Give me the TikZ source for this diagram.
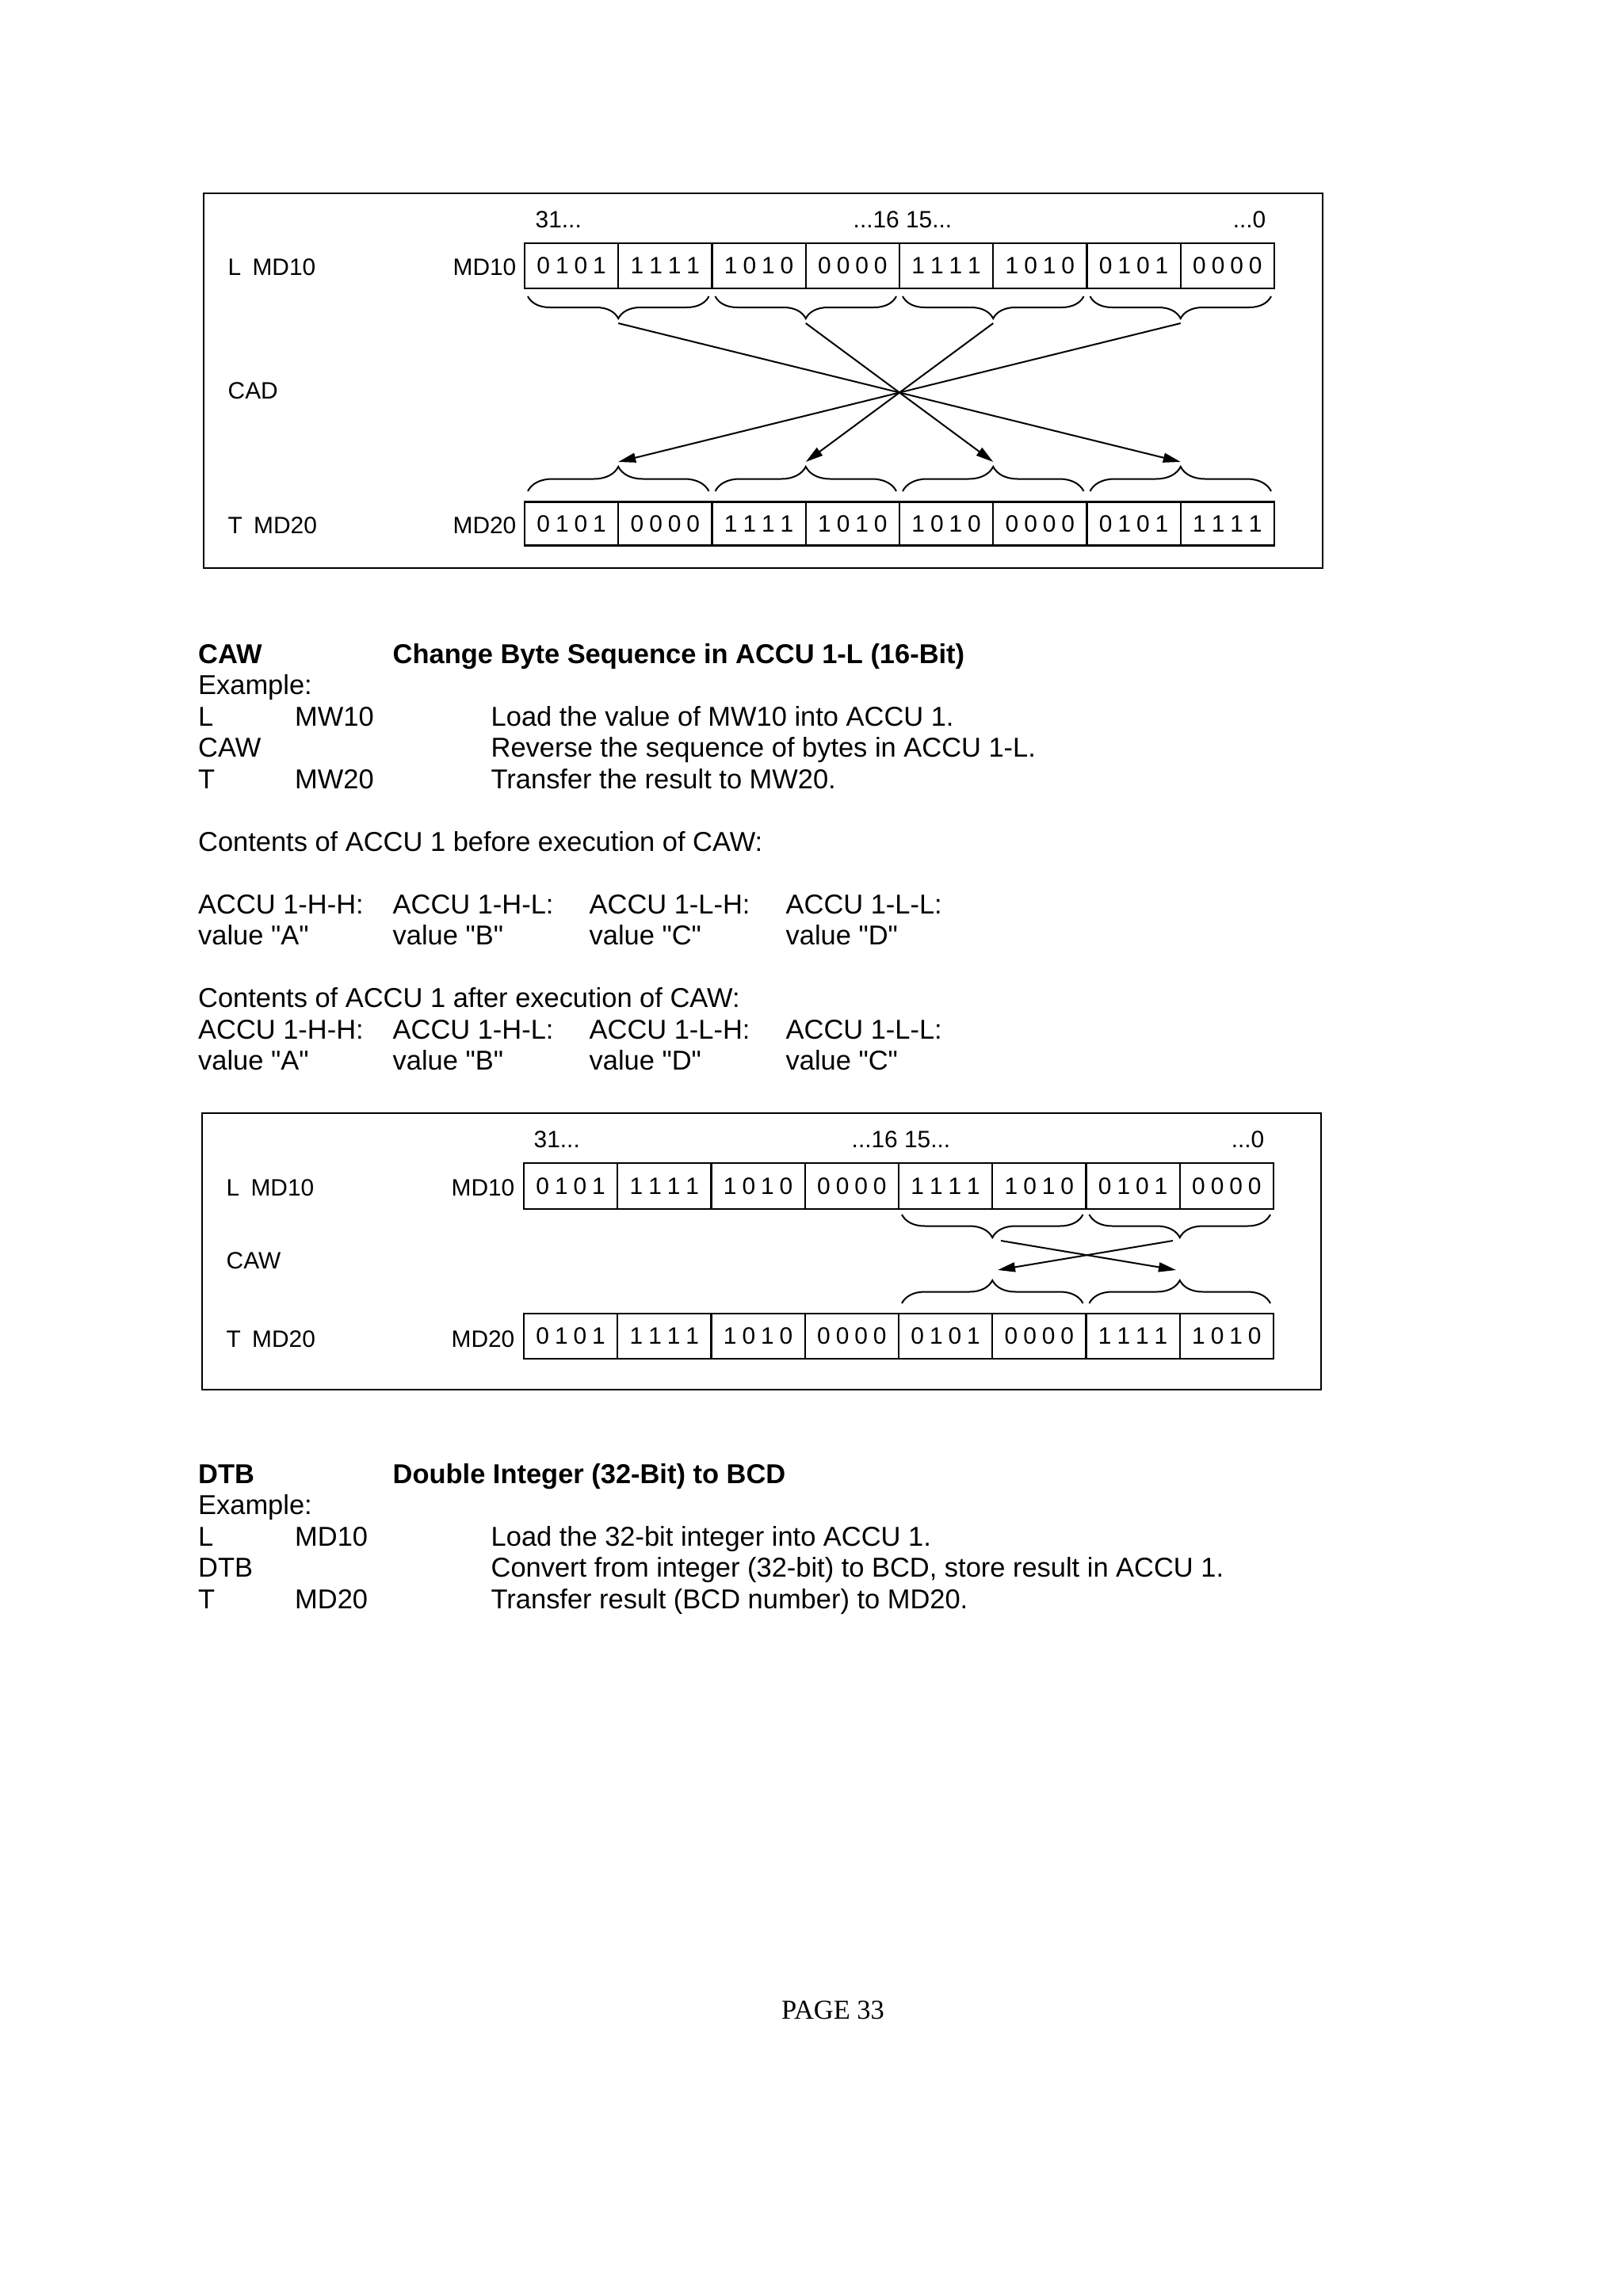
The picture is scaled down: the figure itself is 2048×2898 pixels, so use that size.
\documentclass[tikz,border=0pt]{standalone}
\usepackage{fontspec}
\setmainfont{Liberation Sans}
\newfontfamily\plainq{Liberation Sans}
\newfontfamily\pagefont{Liberation Serif}
\usetikzlibrary{decorations.pathreplacing,arrows.meta}
\newcommand\bitsq[4]{#1\hspace{0.7mm}#2\hspace{0.7mm}#3\hspace{0.7mm}#4}
\newcommand\qq[1]{{\plainq"}#1{\plainq"}}
\begin{document}
\begin{tikzpicture}[x=0.1mm,y=-0.1mm,
  txt/.style={anchor=base west,inner sep=0,font=\fontsize{9.8pt}{11pt}\selectfont},
  btxt/.style={anchor=base west,inner sep=0,font=\fontsize{9.8pt}{11pt}\selectfont\bfseries},
  lab/.style={inner sep=0,font=\fontsize{8.5pt}{10pt}\selectfont},
  cell/.style={draw,line width=0.22mm,minimum width=11.825mm,inner sep=0,font=\fontsize{8.5pt}{10pt}\selectfont},
  frame/.style={draw,line width=0.22mm},
  brc/.style={decorate,decoration={brace,amplitude=#1},line width=0.2mm},
  arr/.style={line width=0.2mm,-{Triangle[length=2.2mm,width=1.2mm]}}]
\fill[white] (0,0) rectangle (2048,2898);
\useasboundingbox (0,0) rectangle (2048,2898);

% ---------- Box 1 (CAD) ----------
\draw[frame] (257,244) rectangle (1669,717);
\node[lab,anchor=west] (c31a) at (675,277) {31...};
\node[lab,anchor=west] (c16a) at (1076,277) {...16 15...};
\node[lab,anchor=east] (c0a) at (1598,277) {...0};
\node[lab,anchor=west] (lmda) at (287,337) {L\hspace{0.6mm} MD10};
\node[lab,anchor=east] (mda) at (652,337) {MD10};
\node[lab,anchor=west] (cad) at (287,493) {CAD};
\node[lab,anchor=west] (tmda) at (287,663) {T\hspace{0.6mm} MD20};
\node[lab,anchor=east] (mdb) at (652,663) {MD20};
\foreach \v [count=\i] in {0101,1111,1010,0000,1111,1010,0101,0000}
  \node[cell,minimum height=5.7mm] (pa\i) at ({662+118.25*(\i-0.5)},335.5) {\expandafter\bitsq\v};
\foreach \v [count=\i] in {0101,0000,1111,1010,1010,0000,0101,1111}
  \node[cell,minimum height=5.5mm] (pb\i) at ({662+118.25*(\i-0.5)},661) {\expandafter\bitsq\v};
\foreach \k in {0,1,2,3}{
  \draw[brc=2.8mm] ({662+236.5*(\k+1)-4},374) -- ({662+236.5*\k+4},374);
  \draw[brc=3.1mm] ({662+236.5*\k+4},620) -- ({662+236.5*(\k+1)-4},620);
  \coordinate (ta\k) at ({662+236.5*\k+118.25},408);
  \coordinate (ba\k) at ({662+236.5*\k+118.25},583);
}
\draw[arr] (ta0) -- (ba3);
\draw[arr] (ta1) -- (ba2);
\draw[arr] (ta2) -- (ba1);
\draw[arr] (ta3) -- (ba0);

% ---------- Text CAW ----------
\node[btxt] (h1) at (249.5,837) {CAW};
\node[btxt] (h1b) at (495,837) {Change Byte Sequence in ACCU 1-L (16-Bit)};
\node[txt] (e1) at (249.5,876.5) {Example:};
\node[txt] (a1) at (249.5,916) {L};
\node[txt] (a2) at (371.5,916) {MW10};
\node[txt] (a3) at (619,916) {Load the value of MW10 into ACCU 1.};
\node[txt] (b1) at (249.5,955.5) {CAW};
\node[txt] (b3) at (619,955.5) {Reverse the sequence of bytes in ACCU 1-L.};
\node[txt] (d1) at (249.5,995) {T};
\node[txt] (d2) at (371.5,995) {MW20};
\node[txt] (d3) at (619,995) {Transfer the result to MW20.};
\node[txt] (f1) at (249.5,1074) {Contents of ACCU 1 before execution of CAW:};
\node[txt] (g1) at (249.5,1153) {ACCU 1-H-H:};
\node[txt] (g2) at (495,1153) {ACCU 1-H-L:};
\node[txt] (g3) at (743,1153) {ACCU 1-L-H:};
\node[txt] (g4) at (991,1153) {ACCU 1-L-L:};
\node[txt] (v1) at (249.5,1192.5) {value \qq{A}};
\node[txt] (v2) at (495,1192.5) {value \qq{B}};
\node[txt] (v3) at (743,1192.5) {value \qq{C}};
\node[txt] (v4) at (991,1192.5) {value \qq{D}};
\node[txt] (k1) at (249.5,1271.5) {Contents of ACCU 1 after execution of CAW:};
\node[txt] (m1) at (249.5,1311) {ACCU 1-H-H:};
\node[txt] (m2) at (495,1311) {ACCU 1-H-L:};
\node[txt] (m3) at (743,1311) {ACCU 1-L-H:};
\node[txt] (m4) at (991,1311) {ACCU 1-L-L:};
\node[txt] (w1) at (249.5,1350.5) {value \qq{A}};
\node[txt] (w2) at (495,1350.5) {value \qq{B}};
\node[txt] (w3) at (743,1350.5) {value \qq{D}};
\node[txt] (w4) at (991,1350.5) {value \qq{C}};

% ---------- Box 2 (CAW) ----------
\draw[frame] (255,1405) rectangle (1667,1754);
\node[lab,anchor=west] (c31b) at (673,1438) {31...};
\node[lab,anchor=west] (c16b) at (1074,1438) {...16 15...};
\node[lab,anchor=east] (c0b) at (1596,1438) {...0};
\node[lab,anchor=west] (lmdb) at (285,1499) {L\hspace{0.6mm} MD10};
\node[lab,anchor=east] (mdc) at (650,1499) {MD10};
\node[lab,anchor=west] (caw) at (285,1591) {CAW};
\node[lab,anchor=west] (tmdb) at (285,1690) {T\hspace{0.6mm} MD20};
\node[lab,anchor=east] (mdd) at (650,1690) {MD20};
\foreach \v [count=\i] in {0101,1111,1010,0000,1111,1010,0101,0000}
  \node[cell,minimum height=5.8mm] (qa\i) at ({661+118.25*(\i-0.5)},1497) {\expandafter\bitsq\v};
\foreach \v [count=\i] in {0101,1111,1010,0000,0101,0000,1111,1010}
  \node[cell,minimum height=5.7mm] (qb\i) at ({661+118.25*(\i-0.5)},1686.5) {\expandafter\bitsq\v};
\foreach \k in {2,3}{
  \draw[brc=2.9mm] ({661+236.5*(\k+1)-4},1533) -- ({661+236.5*\k+4},1533);
  \draw[brc=2.9mm] ({661+236.5*\k+4},1645) -- ({661+236.5*(\k+1)-4},1645);
}
\coordinate (tb2) at (1263,1566);
\coordinate (tb3) at (1480,1566);
\coordinate (bb2) at (1259,1603);
\coordinate (bb3) at (1484,1603);
\draw[arr] (tb2) -- (bb3);
\draw[arr] (tb3) -- (bb2);

% ---------- Text DTB ----------
\node[btxt] (h2) at (249.5,1872) {DTB};
\node[btxt] (h2b) at (495,1872) {Double Integer (32-Bit) to BCD};
\node[txt] (e2) at (249.5,1911.5) {Example:};
\node[txt] (n1) at (249.5,1951) {L};
\node[txt] (n2) at (371.5,1951) {MD10};
\node[txt] (n3) at (619,1951) {Load the 32-bit integer into ACCU 1.};
\node[txt] (o1) at (249.5,1990.5) {DTB};
\node[txt] (o3) at (619,1990.5) {Convert from integer (32-bit) to BCD, store result in ACCU 1.};
\node[txt] (p1) at (249.5,2030) {T};
\node[txt] (p2) at (371.5,2030) {MD20};
\node[txt] (p3) at (619,2030) {Transfer result (BCD number) to MD20.};

% ---------- Page number ----------
\node[anchor=base,inner sep=0,font=\pagefont\fontsize{9.8pt}{11pt}\selectfont] (pg) at (1051,2548) {PAGE 33};
\end{tikzpicture}
\end{document}
